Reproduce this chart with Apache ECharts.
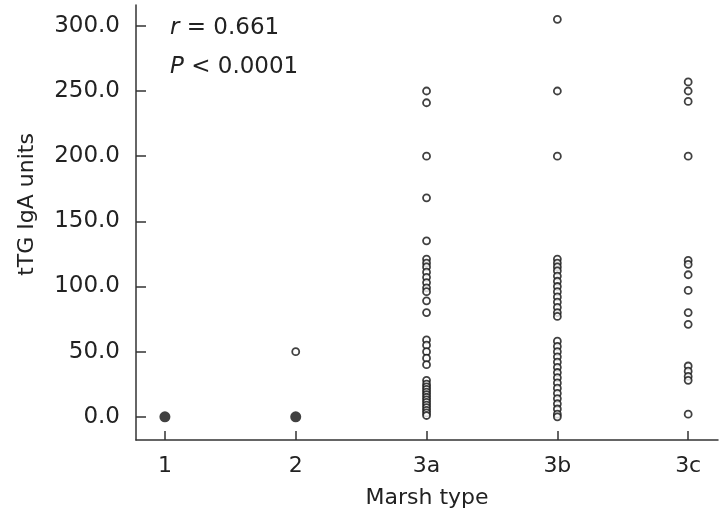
<!DOCTYPE html>
<html>
<head>
<meta charset="utf-8">
<title>tTG IgA units by Marsh type</title>
<script src="https://cdn.jsdelivr.net/npm/echarts@6/dist/echarts.min.js"></script>
<style>
    html, body { margin: 0; padding: 0; background: #fff; }
    #main { width: 720px; height: 508px; }
</style>
</head>
<body>
<div id="main"></div>
<script>
// 分类与刻度
var categories = ['1', '2', '3a', '3b', '3c'];
var xTicks = [1, 2, 3, 4, 5];
var yTicks = [0, 50, 100, 150, 200, 250, 300];

// 各组数值
var marsh1Filled = [0];
var marsh2Filled = [0];
var marsh2 = [50];
var marsh3a = [250, 241, 200, 168, 135, 121, 118, 115, 111, 107, 103, 99, 96, 89, 80,
               59, 55, 50, 45, 40, 28, 25, 23, 21, 19, 17, 15, 13, 11, 9, 7, 5, 3, 1];
var marsh3b = [305, 250, 200, 121, 118, 115, 112, 108, 104, 100, 96, 92, 88, 84, 80, 77,
               58, 54, 50, 46, 42, 38, 34, 30, 26, 22, 18, 14, 10, 6, 2, 0];
var marsh3c = [257, 250, 242, 200, 120, 117, 109, 97, 80, 71, 39, 35, 31, 28, 2];

// 组合成散点 [x, y]
function toPoints(pos, arr) {
    return arr.map(function (v) { return [pos, v]; });
}
var openPoints = [].concat(
    toPoints(2, marsh2),
    toPoints(3, marsh3a),
    toPoints(4, marsh3b),
    toPoints(5, marsh3c)
);
var filledPoints = [].concat(toPoints(1, marsh1Filled), toPoints(2, marsh2Filled));

var font = 'DejaVu Sans';
var txt = '#222';
var axisStyle = { color: '#333', width: 1.5 };
var myChart = echarts.init(document.getElementById('main'));

var option = {
    animation: false,
    backgroundColor: '#fff',
    grid: { left: 136, right: 2, top: 5, bottom: 68, outerBoundsMode: 'none', containLabel: false },
    xAxis: {
        type: 'value',
        min: 0.779,
        max: 5.228,
        name: 'Marsh type',
        nameLocation: 'middle',
        nameGap: 47,
        nameTextStyle: { fontFamily: font, fontSize: 22, color: txt },
        splitLine: { show: false },
        axisLine: { onZero: false, lineStyle: axisStyle },
        axisTick: { show: true, inside: true, length: 9, customValues: xTicks, lineStyle: axisStyle },
        axisLabel: {
            customValues: xTicks,
            margin: 15,
            fontFamily: font, fontSize: 22, color: txt,
            formatter: function (v) { return categories[Math.round(v) - 1]; }
        }
    },
    yAxis: {
        type: 'value',
        min: -17.8,
        max: 316,
        name: 'tTG IgA units',
        nameLocation: 'middle',
        nameGap: 98,
        // 标题略偏上
        nameTextStyle: { fontFamily: font, fontSize: 22, color: txt, padding: [0, 0, 0, 36] },
        splitLine: { show: false },
        axisLine: { show: true, onZero: false, lineStyle: axisStyle },
        axisTick: { show: true, inside: true, length: 10, customValues: yTicks, lineStyle: axisStyle },
        axisLabel: {
            customValues: yTicks,
            margin: 16,
            fontFamily: font, fontSize: 23, color: txt,
            formatter: function (v) { return v.toFixed(1); }
        }
    },
    graphic: [
        {
            type: 'text', left: 170, top: 17,
            style: {
                text: '{i|r} = 0.661',
                font: '23px ' + font, fill: txt,
                rich: { i: { fontStyle: 'italic', fontFamily: font, fontSize: 23, fill: txt } }
            }
        },
        {
            type: 'text', left: 170, top: 56,
            style: {
                text: '{i|P} < 0.0001',
                font: '23px ' + font, fill: txt,
                rich: { i: { fontStyle: 'italic', fontFamily: font, fontSize: 23, fill: txt } }
            }
        }
    ],
    series: [
        {
            name: 'open',
            type: 'scatter',
            data: openPoints,
            symbol: 'circle',
            symbolSize: 7,
            itemStyle: { color: '#fff', borderColor: '#111', borderWidth: 1.8 }
        },
        {
            name: 'filled',
            type: 'scatter',
            data: filledPoints,
            symbol: 'circle',
            symbolSize: 11,
            itemStyle: { color: '#111' }
        }
    ]
};
myChart.setOption(option);
</script>
</body>
</html>
